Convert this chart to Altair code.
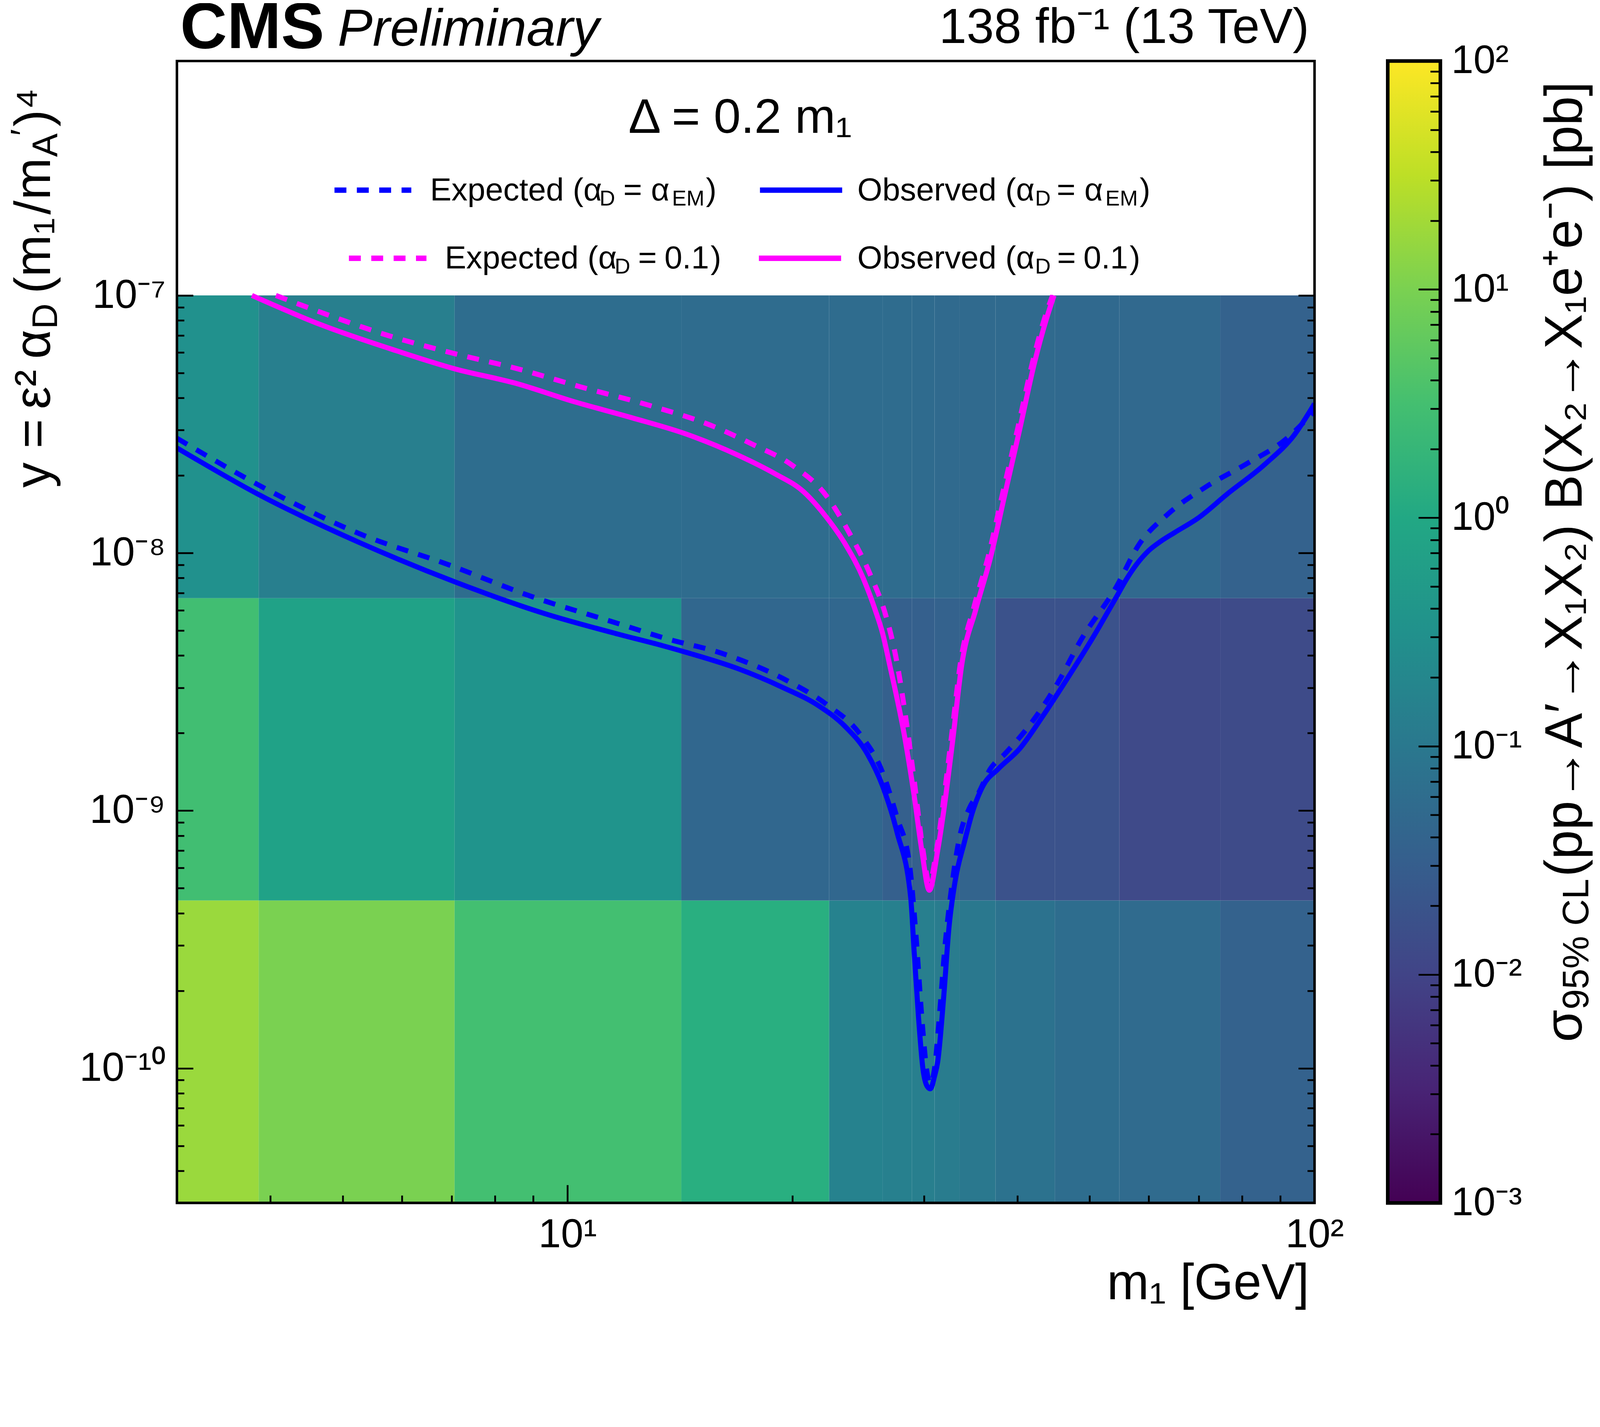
import altair as alt
import pandas as pd

FONT = "Liberation Sans"
W, H = 3155, 3166

# ---------------- data ----------------
# heat-map bins (m1 edges in GeV, y edges) and sigma_95%CL [pb] per cell
m_edges = [3.0, 3.86, 7.06, 14.2, 22.4, 26.4, 28.9, 31.0, 33.5, 37.4, 44.9, 54.8, 74.8, 100.0]
y_edges = [3.0e-11, 4.48e-10, 6.68e-9, 1.0e-7]
sigma_row0 = [17.8, 10.0, 3.16, 1.41, 0.158, 0.141, 0.133, 0.119, 0.100, 0.075, 0.060, 0.053, 0.035]
sigma_row1 = [3.0, 0.75, 0.376, 0.045, 0.045, 0.0316, 0.0316, 0.0355, 0.038, 0.0178, 0.0178, 0.0126, 0.0132]
sigma_row2 = [0.316, 0.133, 0.060, 0.056, 0.056, 0.055, 0.054, 0.050, 0.050, 0.050, 0.049, 0.048, 0.035]

# Observed, alpha_D = alpha_EM
m_obs_em = [3.0, 3.87, 5.26, 7.08, 9.32, 11.7, 13.4, 14.4, 16.9, 19.4, 21.7, 23.5, 25.2, 26.4, 27.6,
            28.8, 29.1, 29.5, 29.9, 30.3, 30.6, 31.0, 31.3, 31.9, 32.4, 33.0, 34.0, 34.8, 36.0, 37.7,
            40.3, 43.2, 46.2, 50.7, 54.3, 56.2, 58.1, 60.0, 62.2, 65.0, 69.8, 76.5, 85.8, 94.0, 100.0]
y_obs_em = [2.56e-8, 1.68e-8, 1.10e-8, 7.71e-9, 5.82e-9, 4.84e-9, 4.37e-9, 4.12e-9, 3.56e-9, 3.01e-9,
            2.55e-9, 2.13e-9, 1.66e-9, 1.25e-9, 8.28e-10, 4.60e-10, 2.87e-10, 1.58e-10, 1.00e-10,
            8.51e-11, 8.32e-11, 9.33e-11, 1.06e-10, 1.93e-10, 3.50e-10, 5.25e-10, 7.59e-10, 9.77e-10,
            1.25e-9, 1.45e-9, 1.74e-9, 2.31e-9, 3.11e-9, 4.79e-9, 6.76e-9, 8.04e-9, 9.23e-9, 1.023e-8,
            1.109e-8, 1.202e-8, 1.365e-8, 1.70e-8, 2.21e-8, 2.88e-8, 3.80e-8]

# Expected, alpha_D = alpha_EM
m_exp_em = [3.0, 4.09, 5.26, 6.92, 8.90, 11.7, 13.4, 16.3, 19.7, 22.2, 24.7, 26.4, 27.6, 28.7, 29.3,
            29.8, 30.3, 30.6, 31.0, 31.5, 32.0, 32.6, 33.5, 34.5, 35.5, 36.8, 38.5, 42.2, 45.4, 48.6,
            54.3, 58.1, 63.7, 71.4, 81.1, 91.3, 100.0]
y_exp_em = [2.79e-8, 1.68e-8, 1.19e-8, 9.02e-9, 6.82e-9, 5.32e-9, 4.70e-9, 4.03e-9, 3.19e-9, 2.59e-9,
            1.96e-9, 1.41e-9, 9.44e-10, 6.15e-10, 3.16e-10, 1.58e-10, 9.55e-11, 8.71e-11, 1.00e-10,
            1.66e-10, 2.95e-10, 4.79e-10, 7.94e-10, 1.02e-9, 1.17e-9, 1.45e-9, 1.66e-9, 2.28e-9,
            3.16e-9, 4.56e-9, 7.40e-9, 1.07e-8, 1.42e-8, 1.80e-8, 2.22e-8, 2.75e-8, 3.56e-8]

# Observed, alpha_D = 0.1
m_obs_01 = [3.78, 4.69, 5.89, 7.08, 8.50, 10.2, 12.2, 14.4, 16.9, 18.9, 20.7, 22.2, 23.6, 24.9, 25.8,
            26.4, 27.0, 28.3, 29.1, 29.8, 30.5, 31.3, 32.1, 32.8, 33.7, 35.2, 36.8, 38.5, 40.3, 42.2,
            43.7, 44.8]
y_obs_01 = [1.0e-7, 7.67e-8, 6.11e-8, 5.18e-8, 4.57e-8, 3.87e-8, 3.35e-8, 2.90e-8, 2.40e-8, 2.04e-8,
            1.73e-8, 1.38e-8, 1.07e-8, 7.94e-9, 6.04e-9, 4.90e-9, 3.67e-9, 1.90e-9, 1.15e-9, 7.02e-10,
            4.91e-10, 7.02e-10, 1.15e-9, 1.90e-9, 3.67e-9, 6.04e-9, 9.51e-9, 1.69e-8, 3.02e-8, 5.51e-8,
            8.00e-8, 1.0e-7]

# Expected, alpha_D = 0.1
m_exp_01 = [4.07, 4.69, 5.76, 7.00, 8.60, 10.4, 12.8, 15.6, 17.7, 20.0, 22.2, 23.9, 25.4, 26.7, 27.5,
            28.3, 29.1, 29.9, 30.5, 31.2, 32.0, 32.7, 33.6, 35.0, 36.6, 38.3, 40.1, 42.0, 43.5, 44.6]
y_exp_01 = [1.0e-7, 8.57e-8, 6.98e-8, 5.98e-8, 5.18e-8, 4.42e-8, 3.76e-8, 3.12e-8, 2.64e-8, 2.19e-8,
            1.67e-8, 1.18e-8, 8.30e-9, 5.66e-9, 3.98e-9, 2.40e-9, 1.32e-9, 7.08e-10, 5.25e-10, 7.08e-10,
            1.20e-9, 2.00e-9, 3.80e-9, 6.17e-9, 9.77e-9, 1.74e-8, 3.09e-8, 5.62e-8, 8.13e-8, 1.0e-7]

# tick values
x_major = [10, 100]
x_minor = [4, 5, 6, 7, 8, 9, 20, 30, 40, 50, 60, 70, 80, 90]
y_major = [1e-10, 1e-9, 1e-8, 1e-7]
y_minor = [k * 10.0 ** e for e in (-11, -10, -9, -8) for k in range(2, 10) if k * 10.0 ** e > 3.05e-11]
cb_major = [1e-3, 1e-2, 1e-1, 1, 10, 100]
cb_minor = [k * 10.0 ** e for e in (-3, -2, -1, 0, 1) for k in range(2, 10)]
viridis = ["#440154", "#482475", "#414487", "#355f8d", "#2a788e", "#21918c",
           "#22a884", "#44bf70", "#7ad151", "#bddf26", "#fde725"]

# ---------------- scales / axes ----------------
xs = alt.Scale(type="log", domain=[3.0, 100.0], nice=False)
ys = alt.Scale(type="log", domain=[3.0e-11, 8.13e-7], nice=False)
cbs = alt.Scale(type="log", domain=[1e-3, 1e2], nice=False)
cs = alt.Scale(type="log", domain=[1e-3, 1e2], scheme="viridis")


def axis(orient, values, size, offset=None, expr=None, pad=30, fsize=112):
    kw = dict(orient=orient, values=values, tickSize=size,
              offset=(-size if offset is None else offset),
              domain=False, grid=False, ticks=True, tickColor="black", tickWidth=5,
              title=None, zindex=1)
    if expr is None:
        kw["labels"] = False
    else:
        kw.update(labels=True, labelExpr=expr, labelFont=FONT, labelFontSize=fsize,
                  labelColor="black", labelPadding=pad, labelFlush=False, labelOverlap=False,
                  labelLimit=2000)
    return alt.Axis(**kw)


y_expr = ("datum.value < 5e-10 ? '10⁻¹⁰' : datum.value < 5e-9 ? '10⁻⁹' : "
          "datum.value < 5e-8 ? '10⁻⁸' : '10⁻⁷'")
x_expr = "datum.value < 50 ? '10¹' : '10²'"
cb_expr = ("datum.value < 5e-3 ? '10⁻³' : datum.value < 5e-2 ? '10⁻²' : datum.value < 0.5 ? '10⁻¹' : "
           "datum.value < 5 ? '10⁰' : datum.value < 50 ? '10¹' : '10²'")

# ---------------- layers ----------------
cells = []
for i, row in enumerate([sigma_row0, sigma_row1, sigma_row2]):
    for j, s in enumerate(row):
        cells.append({"lo": m_edges[j], "hi": m_edges[j + 1],
                      "ylo": y_edges[i], "yhi": y_edges[i + 1], "s": s})
heat_df = pd.DataFrame(cells)

heat = alt.Chart(heat_df).mark_rect().encode(
    x=alt.X("lo:Q", scale=xs, axis=axis("bottom", x_major, 50, expr=x_expr, pad=34)),
    x2="hi:Q",
    y=alt.Y("ylo:Q", scale=ys, axis=axis("left", y_major, 45, expr=y_expr, pad=32)),
    y2="yhi:Q",
    color=alt.Color("s:Q", scale=cs, legend=None),
)


def curve(m, y, color, dashed, xaxis, yaxis):
    df = pd.DataFrame({"m": m, "y": y})
    kw = dict(color=color, strokeWidth=14, interpolate="monotone", clip=True)
    if dashed:
        kw["strokeDash"] = [33, 29]
    return alt.Chart(df).mark_line(**kw).encode(
        x=alt.X("m:Q", scale=xs, axis=xaxis),
        y=alt.Y("y:Q", scale=ys, axis=yaxis),
    )


BLUE, MAG = "#0000ff", "#ff00ff"
l1 = curve(m_exp_em, y_exp_em, BLUE, True, axis("bottom", x_minor, 21), axis("left", y_minor, 20))
l2 = curve(m_obs_em, y_obs_em, BLUE, False, None, axis("right", y_major, 45))
l3 = curve(m_exp_01, y_exp_01, MAG, True, None, axis("right", y_minor, 20))
l4 = curve(m_obs_01, y_obs_01, MAG, False, None, None)

one = pd.DataFrame({"k": [0]})
cb_df = pd.DataFrame({"lo": [1e-3], "hi": [1e2]})
grad = alt.LinearGradient(
    gradient="linear", x1=0, x2=0, y1=1, y2=0,
    stops=[alt.GradientStop(offset=i / 10, color=c) for i, c in enumerate(viridis)])
CBX0, CBX1 = 3358, 3504
cbar = alt.Chart(cb_df).mark_rect(fill=grad, stroke="black", strokeWidth=10).encode(
    x=alt.value(CBX0), x2=alt.value(CBX1),
    y=alt.Y("lo:Q", scale=cbs, axis=axis("right", cb_major, 61, offset=CBX1 - 61 - W,
                                         expr=cb_expr, pad=30, fsize=110)),
    y2="hi:Q",
)
cbar_minor = alt.Chart(cb_df).mark_rect(opacity=0).encode(
    x=alt.value(CBX0), x2=alt.value(CBX1),
    y=alt.Y("lo:Q", scale=cbs, axis=axis("right", cb_minor, 28, offset=CBX1 - 28 - W)),
    y2="hi:Q",
)

frame = alt.Chart(one).mark_rect(filled=False, stroke="black", strokeWidth=7).encode(
    x=alt.value(0), x2=alt.value(W), y=alt.value(0), y2=alt.value(H))


def T(s, x, y, size, angle=0, align="left", weight="normal", style="normal"):
    kw = dict(text=s, font=FONT, fontSize=size, align=align, baseline="alphabetic",
              color="black", fontWeight=weight, fontStyle=style)
    if angle:
        kw["angle"] = angle
    return alt.Chart(one).mark_text(**kw).encode(x=alt.value(x), y=alt.value(y))


def R(x0, x1, y, color, dashed):
    kw = dict(color=color, strokeWidth=15)
    if dashed:
        kw["strokeDash"] = [33, 29]
    return alt.Chart(one).mark_rule(**kw).encode(x=alt.value(x0), x2=alt.value(x1), y=alt.value(y))


texts = [
    T("CMS", 9, -36, 180, weight="bold"),
    T("Preliminary", 446, -42, 145, style="italic"),
    T("138 fb⁻¹ (13 TeV)", 3140, -50, 137, align="right"),
    T("Δ = 0.2 m₁", 1562, 199, 135, align="center"),
    # legend row 1
    T("Expected (α", 702, 387, 89), T("D", 1172, 401, 60), T("= α", 1238, 387, 89),
    T("EM", 1373, 401, 60), T(")", 1467, 387, 89),
    T("Observed (α", 1887, 387, 89), T("D", 2380, 401, 60), T("= α", 2440, 387, 89),
    T("EM", 2575, 401, 60), T(")", 2670, 387, 89),
    # legend row 2
    T("Expected (α", 743, 575, 89), T("D", 1214, 589, 60), T("=", 1279, 575, 89),
    T("0.1", 1352, 575, 89), T(")", 1480, 575, 89),
    T("Observed (α", 1887, 575, 89), T("D", 2380, 589, 60), T("=", 2441, 575, 89),
    T("0.1", 2514, 575, 89), T(")", 2642, 575, 89),
    # x title
    T("m₁ [GeV]", 3140, 3433, 140, align="right"),
    # y title (rotated)
    T("y =", -352, 1183, 140, angle=270), T("ε²", -352, 965, 140, angle=270),
    T("α", -352, 826, 140, angle=270), T("D", -332, 743, 98, angle=270),
    T("(m₁", -352, 645, 140, angle=270), T("/", -352, 426, 140, angle=270),
    T("m", -352, 385, 140, angle=270), T("A", -332, 266, 98, angle=270),
    T("′", -392, 207, 98, angle=270), T(")⁴", -352, 182, 140, angle=270),
    # colour-bar title (rotated)
    T("σ", 3896, 2720, 146, angle=270), T("95% CL", 3914, 2630, 102, angle=270),
    T("(pp→A′→X₁X₂) B(X₂→X₁e⁺e⁻) [pb]", 3896, 2262, 146, angle=270),
]
legend_lines = [
    R(437, 650, 358, BLUE, True), R(1617, 1845, 358, BLUE, False),
    R(477, 692, 547, MAG, True), R(1614, 1842, 547, MAG, False),
]

chart = alt.layer(heat, l1, l2, l3, l4, cbar, cbar_minor, frame, *legend_lines, *texts).resolve_scale(
    x="independent", y="independent"
).properties(
    width=W, height=H,
    autosize=alt.AutoSizeParams(type="none"),
    padding={"left": 482, "top": 21, "right": 783, "bottom": 160},
    background="white",
).configure_view(stroke=None)

chart.save("out.html", embed_options={"renderer": "svg", "actions": False})
